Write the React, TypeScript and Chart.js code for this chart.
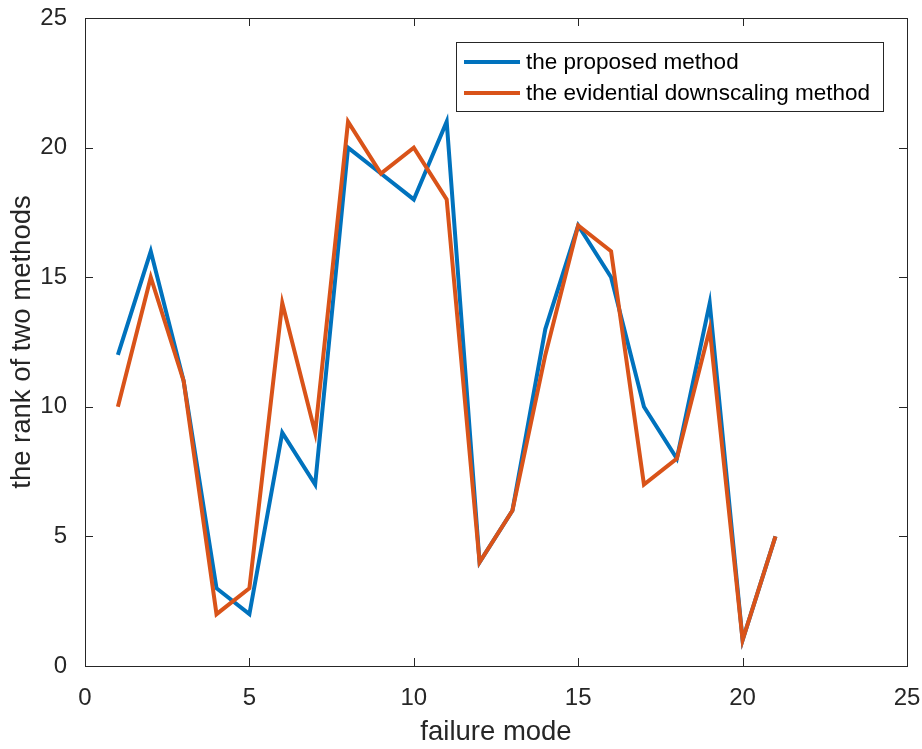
import React, { useEffect, useRef } from "react";
import { Chart, registerables } from "chart.js";

Chart.register(...registerables);

const failureModes = [1, 2, 3, 4, 5, 6, 7, 8, 9, 10, 11, 12, 13, 14, 15, 16, 17, 18, 19, 20, 21];
const proposedRank = [12, 16, 11, 3, 2, 9, 7, 20, 19, 18, 21, 4, 6, 13, 17, 15, 10, 8, 14, 1, 5];
const downscalingRank = [10, 15, 11, 2, 3, 14, 9, 21, 19, 20, 18, 4, 6, 12, 17, 16, 7, 8, 13, 1, 5];
const seriesLabels = ["the proposed method", "the evidential downscaling method"];
const seriesColors = ["#0072BD", "#D95319"];
const xTitle = "failure mode";
const yTitle = "the rank of two methods";

const AXIS_COLOR = "#262626";
const FONT = "'Liberation Sans', Arial, Helvetica, sans-serif";

const boxTicksPlugin = {
  id: "boxTicks",
  afterDatasetsDraw(chart: any) {
    const { ctx, chartArea: a, scales } = chart;
    ctx.save();
    ctx.strokeStyle = AXIS_COLOR;
    ctx.lineWidth = 1;
    ctx.strokeRect(Math.round(a.left) + 0.5, Math.round(a.top) + 0.5, Math.round(a.right - a.left), Math.round(a.bottom - a.top));
    const len = 8;
    ctx.beginPath();
    scales.x.ticks.forEach((t: any) => {
      const px = Math.round(scales.x.getPixelForValue(t.value)) + 0.5;
      ctx.moveTo(px, a.bottom);
      ctx.lineTo(px, a.bottom - len);
      ctx.moveTo(px, a.top);
      ctx.lineTo(px, a.top + len);
    });
    scales.y.ticks.forEach((t: any) => {
      const py = Math.round(scales.y.getPixelForValue(t.value)) + 0.5;
      ctx.moveTo(a.left, py);
      ctx.lineTo(a.left + len, py);
      ctx.moveTo(a.right, py);
      ctx.lineTo(a.right - len, py);
    });
    ctx.stroke();

    // legend box
    const lx = 456.5, ly = 42.5, lw = 427, lh = 69;
    ctx.fillStyle = "#ffffff";
    ctx.fillRect(lx, ly, lw, lh);
    ctx.strokeStyle = AXIS_COLOR;
    ctx.strokeRect(lx, ly, lw, lh);
    ctx.font = `22.5px ${FONT}`;
    ctx.textBaseline = "middle";
    const legendItems = [0, 1];
    legendItems.forEach((i: number) => {
      const ds = chart.data.datasets[i];
      const y = 62 + i * 31;
      ctx.strokeStyle = ds.borderColor;
      ctx.lineWidth = 4;
      ctx.beginPath();
      ctx.moveTo(464, y);
      ctx.lineTo(520, y);
      ctx.stroke();
      ctx.fillStyle = "#000000";
      ctx.fillText(ds.label, 526, y + 1);
    });
    ctx.restore();
  },
};

export default function App() {
  const canvasRef = useRef<HTMLCanvasElement | null>(null);

  useEffect(() => {
    if (!canvasRef.current) return;
    const chart = new Chart(canvasRef.current, {
      type: "line",
      data: {
        labels: failureModes,
        datasets: [
          {
            label: seriesLabels[0],
            data: failureModes.map((x, i) => ({ x, y: proposedRank[i] })),
            borderColor: seriesColors[0],
            backgroundColor: seriesColors[0],
            borderWidth: 4,
            pointRadius: 0,
            tension: 0,
            order: 1,
          },
          {
            label: seriesLabels[1],
            data: failureModes.map((x, i) => ({ x, y: downscalingRank[i] })),
            borderColor: seriesColors[1],
            backgroundColor: seriesColors[1],
            borderWidth: 4,
            pointRadius: 0,
            tension: 0,
            order: 0,
          },
        ],
      },
      options: {
        animation: false,
        responsive: false,
        maintainAspectRatio: false,
        layout: { padding: { top: 18, right: 15, left: 0, bottom: 0 } },
        plugins: {
          legend: { display: false },
          tooltip: { enabled: false },
        },
        scales: {
          x: {
            type: "linear",
            min: 0,
            max: 25,
            grid: { display: false },
            border: { display: false },
            ticks: {
              stepSize: 5,
              color: AXIS_COLOR,
              font: { family: FONT, size: 24 },
              padding: 10,
            },
            title: {
              display: true,
              text: xTitle,
              color: AXIS_COLOR,
              font: { family: FONT, size: 27.5 },
              padding: { top: 5, bottom: 0 },
            },
            afterFit(scale: any) {
              scale.height = 83;
              scale.paddingLeft = 0;
              scale.paddingRight = 0;
            },
          },
          y: {
            type: "linear",
            min: 0,
            max: 25,
            grid: { display: false },
            border: { display: false },
            ticks: {
              stepSize: 5,
              color: AXIS_COLOR,
              font: { family: FONT, size: 24 },
              padding: 10,
            },
            title: {
              display: true,
              text: yTitle,
              color: AXIS_COLOR,
              font: { family: FONT, size: 27.5 },
              padding: { top: 6, bottom: 0 },
            },
            afterFit(scale: any) {
              scale.width = 85;
              scale.paddingTop = 0;
              scale.paddingBottom = 0;
            },
          },
        },
      },
      plugins: [boxTicksPlugin],
    } as any);
    return () => chart.destroy();
  }, []);

  return (
    <div style={{ position: "fixed", left: 0, top: 0, width: 922, height: 749, background: "#ffffff" }}>
      <canvas ref={canvasRef} width={922} height={749} style={{ width: 922, height: 749 }} />
    </div>
  );
}
